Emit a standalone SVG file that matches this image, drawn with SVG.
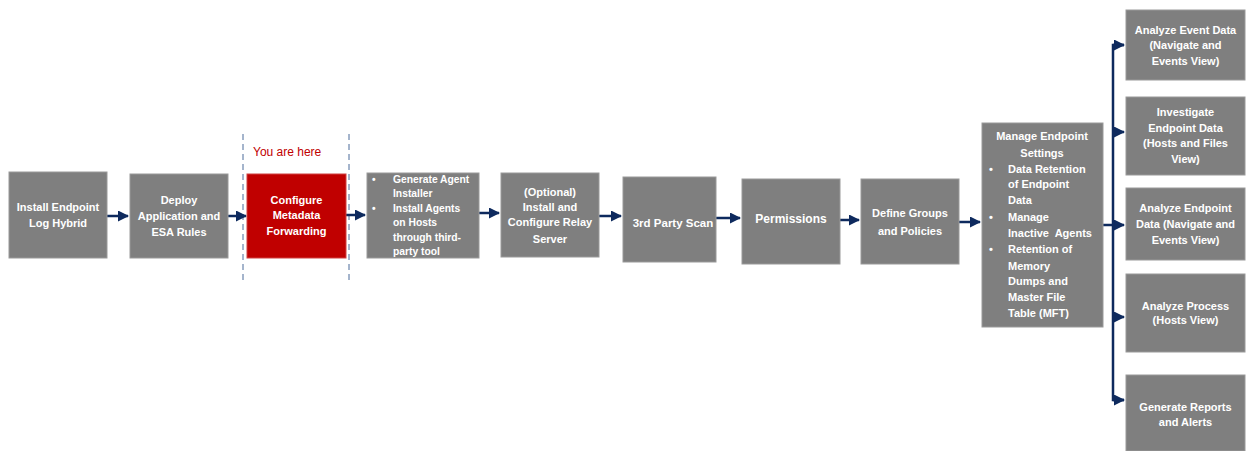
<svg xmlns="http://www.w3.org/2000/svg" width="1250" height="451" viewBox="0 0 1250 451">
<style>
.box{fill:#7f7f7f;stroke:#9a9a9a;stroke-width:1}
.red{fill:#c00000;stroke:#d04040;stroke-width:1}
.t{font-family:"Liberation Sans",Arial,sans-serif;font-weight:bold;font-size:11px;fill:#ffffff;text-anchor:middle}
.tl{font-family:"Liberation Sans",Arial,sans-serif;font-weight:bold;font-size:10.5px;fill:#ffffff}
.c{stroke:#0e2a5e;stroke-width:2.5;fill:none}
.dash{stroke:#4a6a9a;stroke-width:1;stroke-dasharray:6,4;fill:none}
</style>
<defs>
<marker id="ah" markerWidth="4.4" markerHeight="4.4" refX="4" refY="2.2" orient="auto" markerUnits="strokeWidth"><path d="M0,0 L4.4,2.2 L0,4.4 z" fill="#0e2a5e"/></marker>
</defs>
<rect width="1250" height="451" fill="#ffffff"/>
<g id="marker-here">
<line class="dash" x1="243" y1="134" x2="243" y2="282"/>
<line class="dash" x1="349" y1="134" x2="349" y2="280"/>
<text x="253" y="156" style="font-family:'Liberation Sans',Arial,sans-serif;font-size:12px;fill:#c00000">You are here</text>
</g>
<g id="connectors">
<line class="c" x1="107" y1="216" x2="128" y2="216" marker-end="url(#ah)"/>
<line class="c" x1="228" y1="216" x2="246" y2="216" marker-end="url(#ah)"/>
<line class="c" x1="346" y1="215" x2="365" y2="215" marker-end="url(#ah)"/>
<line class="c" x1="479" y1="213" x2="499" y2="213" marker-end="url(#ah)"/>
<line class="c" x1="599" y1="216" x2="621" y2="216" marker-end="url(#ah)"/>
<line class="c" x1="716" y1="218" x2="740" y2="218" marker-end="url(#ah)"/>
<line class="c" x1="840" y1="220" x2="859" y2="220" marker-end="url(#ah)"/>
<line class="c" x1="959" y1="222" x2="980" y2="222" marker-end="url(#ah)"/>
<line class="c" x1="1103" y1="225" x2="1124" y2="225" marker-end="url(#ah)"/>
<polyline class="c" points="1124,45 1113,45 1113,400 1124,400"/>
<line class="c" x1="1113" y1="45" x2="1124" y2="45" marker-end="url(#ah)"/>
<line class="c" x1="1113" y1="132" x2="1124" y2="132" marker-end="url(#ah)"/>
<line class="c" x1="1113" y1="317" x2="1124" y2="317" marker-end="url(#ah)"/>
<line class="c" x1="1113" y1="400" x2="1124" y2="400" marker-end="url(#ah)"/>
</g>
<g id="n1"><rect class="box" x="9" y="172" width="98" height="86"/>
<text class="t"><tspan x="58" y="211">Install Endpoint</tspan><tspan x="58" y="227">Log Hybrid</tspan></text></g>
<g id="n2"><rect class="box" x="130" y="174" width="98" height="84"/>
<text class="t"><tspan x="179" y="204">Deploy</tspan><tspan x="179" y="220">Application and</tspan><tspan x="179" y="236">ESA Rules</tspan></text></g>
<g id="n3"><rect class="red" x="247" y="174" width="99" height="84"/>
<text class="t"><tspan x="296.5" y="204">Configure</tspan><tspan x="296.5" y="219">Metadata</tspan><tspan x="296.5" y="235">Forwarding</tspan></text></g>
<g id="n4"><rect class="box" x="367" y="173" width="112" height="85"/>
<text class="tl" style="font-size:10.3px"><tspan x="372" y="183">•</tspan><tspan x="393" y="183">Generate Agent</tspan><tspan x="393" y="197">Installer</tspan><tspan x="372" y="212">•</tspan><tspan x="393" y="212">Install Agents</tspan><tspan x="393" y="226">on Hosts</tspan><tspan x="393" y="241">through third-</tspan><tspan x="393" y="255">party tool</tspan></text></g>
<g id="n5"><rect class="box" x="501" y="173" width="98" height="84"/>
<text class="t"><tspan x="550" y="196">(Optional)</tspan><tspan x="550" y="211">Install and</tspan><tspan x="550" y="226">Configure Relay</tspan><tspan x="550" y="243">Server</tspan></text></g>
<g id="n6"><rect class="box" x="623" y="177" width="93" height="85"/>
<text class="t" style="font-size:11.5px"><tspan x="673" y="227">3rd Party Scan</tspan></text></g>
<g id="n7"><rect class="box" x="742" y="179" width="98" height="85"/>
<text class="t" style="font-size:12px"><tspan x="791" y="223">Permissions</tspan></text></g>
<g id="n8"><rect class="box" x="861" y="179" width="98" height="85"/>
<text class="t"><tspan x="910" y="217">Define Groups</tspan><tspan x="910" y="235">and Policies</tspan></text></g>
<g id="n9"><rect class="box" x="982" y="123" width="121" height="204"/>
<text class="t"><tspan x="1042" y="140">Manage Endpoint</tspan><tspan x="1042" y="157">Settings</tspan></text>
<text class="tl" style="font-size:11px"><tspan x="989" y="173">•</tspan><tspan x="1008" y="173">Data Retention</tspan><tspan x="1008" y="188">of Endpoint</tspan><tspan x="1008" y="204">Data</tspan><tspan x="989" y="221">•</tspan><tspan x="1008" y="221">Manage</tspan><tspan x="1008" y="237">Inactive&#160; Agents</tspan><tspan x="989" y="253">•</tspan><tspan x="1008" y="253">Retention of</tspan><tspan x="1008" y="270">Memory</tspan><tspan x="1008" y="285">Dumps and</tspan><tspan x="1008" y="301">Master File</tspan><tspan x="1008" y="317">Table (MFT)</tspan></text></g>
<g id="nA"><rect class="box" x="1126" y="10" width="119" height="70"/>
<text class="t"><tspan x="1185.5" y="34">Analyze Event Data</tspan><tspan x="1185.5" y="49">(Navigate and</tspan><tspan x="1185.5" y="65">Events View)</tspan></text></g>
<g id="nB"><rect class="box" x="1126" y="97" width="119" height="78"/>
<text class="t"><tspan x="1185.5" y="116">Investigate</tspan><tspan x="1185.5" y="132">Endpoint Data</tspan><tspan x="1185.5" y="147">(Hosts and Files</tspan><tspan x="1185.5" y="163">View)</tspan></text></g>
<g id="nC"><rect class="box" x="1126" y="188" width="119" height="72"/>
<text class="t"><tspan x="1185.5" y="212">Analyze Endpoint</tspan><tspan x="1185.5" y="228">Data (Navigate and</tspan><tspan x="1185.5" y="244">Events View)</tspan></text></g>
<g id="nD"><rect class="box" x="1126" y="274" width="119" height="78"/>
<text class="t"><tspan x="1185.5" y="310">Analyze Process</tspan><tspan x="1185.5" y="324">(Hosts View)</tspan></text></g>
<g id="nE"><rect class="box" x="1126" y="375" width="119" height="76"/>
<text class="t"><tspan x="1185.5" y="411">Generate Reports</tspan><tspan x="1185.5" y="426">and Alerts</tspan></text></g>
</svg>
